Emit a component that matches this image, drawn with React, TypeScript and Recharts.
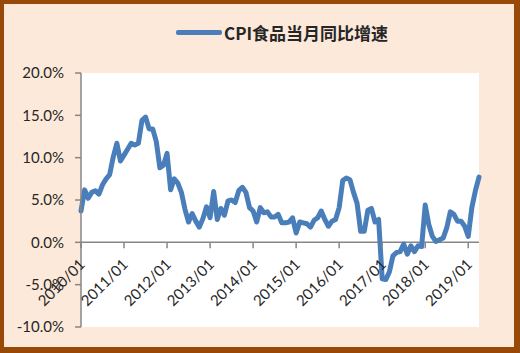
import {
  LineChart,
  CartesianGrid,
  XAxis,
  YAxis,
  Legend,
  Line,
  ReferenceLine,
} from "recharts";

// CPI食品当月同比增速, monthly, %
const years = [2010, 2011, 2012, 2013, 2014, 2015, 2016, 2017, 2018, 2019];
const monthNames = ["01", "02", "03", "04", "05", "06", "07", "08", "09", "10", "11", "12"];

const cpiFood = [
  3.7, 6.2, 5.2, 5.9, 6.1, 5.7, 6.8, 7.5, 8.0, 10.1, 11.7, 9.6,
  10.3, 11.0, 11.7, 11.5, 11.7, 14.4, 14.8, 13.4, 13.4, 11.9, 8.8, 9.1,
  10.5, 6.2, 7.5, 7.0, 5.9, 3.9, 2.4, 3.4, 2.5, 1.8, 2.8, 4.2,
  2.9, 6.0, 2.7, 4.0, 3.2, 4.9, 5.0, 4.7, 6.1, 6.5, 5.9, 4.1,
  3.7, 2.4, 4.1, 3.5, 3.6, 3.0, 3.0, 3.3, 2.3, 2.3, 2.4, 2.9,
  1.1, 2.4, 2.3, 2.2, 1.8, 2.6, 2.9, 3.7, 2.7, 1.9, 2.5, 2.7,
  4.1, 7.3, 7.6, 7.4, 5.9, 4.6, 1.3, 1.3, 3.8, 4.0, 2.4, 2.7,
  -4.3, -4.4, -3.5, -1.6, -1.2, -1.1, -0.2, -1.4, -0.4, -1.1, -0.4, -0.5,
  4.4, 2.1, 0.7, 0.1, 0.3, 0.5, 1.7, 3.6, 3.3, 2.5, 2.5, 1.9,
  0.7, 4.1, 6.1, 7.7,
];

const months = years
  .flatMap((y) => monthNames.map((m) => `${y}/${m}`))
  .slice(0, cpiFood.length);

const xTicks = years.map((y) => `${y}/01`);
const yTicks = [-10, -5, 0, 5, 10, 15, 20];

const chartData = cpiFood.map((value, i) => ({ month: months[i], value }));

const PLOT_TOP = 73;
const PLOT_BOTTOM = 327;
const Y_MIN = -10;
const Y_MAX = 20;
const zeroY = PLOT_TOP + ((PLOT_BOTTOM - PLOT_TOP) * Y_MAX) / (Y_MAX - Y_MIN);

const AXIS = "#868686";
const TEXT = "#262626";
const FONT = "Lato, 'Liberation Sans', sans-serif";

const XTick = (props: any) => {
  const { x, payload } = props;
  return (
    <g>
      <line x1={x} x2={x} y1={zeroY} y2={zeroY + 6} stroke={AXIS} strokeWidth={1.5} />
      <text
        transform={`translate(${x + 5},${zeroY + 23}) rotate(-45)`}
        textAnchor="end"
        fontSize={15}
        fontFamily={FONT}
        fill={TEXT}
      >
        {payload.value}
      </text>
    </g>
  );
};

const LegendContent = () => (
  <div style={{ display: "flex", alignItems: "center" }}>
    <div
      style={{
        width: 46,
        height: 5,
        borderRadius: 2,
        background: "#4A7EBB",
        marginRight: 2,
      }}
    />
    <span
      style={{
        fontFamily: "'Noto Sans CJK SC', sans-serif",
        fontWeight: 700,
        fontSize: 17,
        color: TEXT,
        whiteSpace: "nowrap",
      }}
    >
      CPI食品当月同比增速
    </span>
  </div>
);

export default function App() {
  return (
    <div
      style={{
        position: "fixed",
        left: 0,
        top: 0,
        width: 520,
        height: 353,
        background: "#FDE9D9",
      }}
    >
      <LineChart
        width={520}
        height={353}
        data={chartData}
        margin={{ top: PLOT_TOP, right: 41, bottom: 0, left: 0 }}
      >
        <CartesianGrid fill="#ffffff" horizontal={false} vertical={false} />
        <XAxis
          dataKey="month"
          ticks={xTicks}
          interval={0}
          height={353 - PLOT_BOTTOM}
          axisLine={false}
          tickLine={false}
          tick={<XTick />}
        />
        <YAxis
          width={81}
          domain={[Y_MIN, Y_MAX]}
          ticks={yTicks}
          tickFormatter={(v: number) => `${v.toFixed(1)}%`}
          axisLine={{ stroke: AXIS, strokeWidth: 1.5 }}
          tickLine={{ stroke: AXIS, strokeWidth: 1.5 }}
          tickSize={6}
          tickMargin={11}
          tick={{ fontSize: 15, fontFamily: FONT, fill: TEXT }}
        />
        <ReferenceLine y={0} stroke={AXIS} strokeWidth={1.5} />
        <Legend
          layout="horizontal"
          verticalAlign="middle"
          content={<LegendContent />}
          wrapperStyle={{ top: 20, left: 176, width: 260, height: 24 }}
        />
        <Line
          type="linear"
          dataKey="value"
          name="CPI食品当月同比增速"
          stroke="#4A7EBB"
          strokeWidth={5}
          strokeLinejoin="round"
          strokeLinecap="round"
          dot={false}
          isAnimationActive={false}
        />
      </LineChart>
      <div
        style={{
          position: "absolute",
          inset: 0,
          borderStyle: "solid",
          borderColor: "#984807",
          borderWidth: "4px 6px 6px 4px",
          pointerEvents: "none",
        }}
      />
    </div>
  );
}
